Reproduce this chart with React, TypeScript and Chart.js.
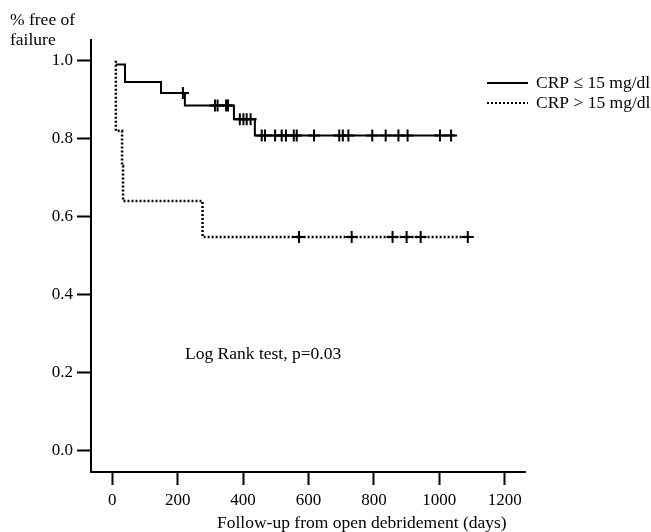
import React, { useEffect, useRef } from 'react';
import { Chart, registerables } from 'chart.js';

Chart.register(...registerables);

// Axis ticks
const xTicks = [0, 200, 400, 600, 800, 1000, 1200];
const yTicks = [0, 0.2, 0.4, 0.6, 0.8, 1.0];

// CRP <= 15 mg/dl : Kaplan-Meier steps (day, survival)
const lowCrpDays = [11, 39, 149, 222, 372, 436, 1048];
const lowCrpSurv = [0.99, 0.945, 0.917, 0.885, 0.85, 0.808, 0.808];
const lowCrpCensorDays = [216, 314, 322, 348, 354, 390, 401, 411, 423, 457, 467, 498, 518, 531, 555, 564, 617, 694, 705, 722, 795, 836, 875, 903, 1002, 1036];

// CRP > 15 mg/dl
const highCrpDays = [11, 11, 30, 33, 276, 1099];
const highCrpSurv = [1.0, 0.82, 0.73, 0.64, 0.548, 0.548];
const highCrpCensorDays = [571, 732, 857, 900, 943, 1087];

const FONT = '"Liberation Serif", "Times New Roman", serif';

function survAt(days: number[], surv: number[], t: number): number {
  let v = surv[0];
  for (let i = 0; i < days.length; i++) {
    if (days[i] <= t) v = surv[i];
  }
  return v;
}

const textPlugin = {
  id: 'texts',
  afterDraw(chart: any) {
    const ctx = chart.ctx as CanvasRenderingContext2D;
    ctx.save();
    ctx.fillStyle = '#000';
    ctx.strokeStyle = '#000';
    ctx.font = `17.5px ${FONT}`;
    ctx.textBaseline = 'middle';
    ctx.textAlign = 'left';
    // y title
    ctx.fillText('% free of', 10, 20);
    ctx.fillText('failure', 10, 40);
    // legend
    ctx.lineWidth = 2;
    ctx.beginPath();
    ctx.moveTo(487, 83);
    ctx.lineTo(528, 83);
    ctx.stroke();
    ctx.setLineDash([2, 2]);
    ctx.beginPath();
    ctx.moveTo(487, 103);
    ctx.lineTo(528, 103);
    ctx.stroke();
    ctx.setLineDash([]);
    ctx.fillText('CRP \u2264 15 mg/dl', 536, 83);
    ctx.fillText('CRP > 15 mg/dl', 536, 103);
    // annotation
    ctx.fillText('Log Rank test, p=0.03', 185, 354);
    // x title
    ctx.fillText('Follow-up from open debridement (days)', 217, 523);
    ctx.restore();
  },
};

export default function App() {
  const ref = useRef<HTMLCanvasElement | null>(null);
  useEffect(() => {
    if (!ref.current) return;
    const chart = new Chart(ref.current, {
      type: 'line',
      data: {
        datasets: [
          {
            label: 'CRP \u2264 15 mg/dl',
            data: lowCrpDays.map((d, i) => ({ x: d, y: lowCrpSurv[i] })),
            borderColor: '#000',
            borderWidth: 2,
            stepped: 'before',
            pointRadius: 0,
            fill: false,
          },
          {
            label: 'CRP > 15 mg/dl',
            data: highCrpDays.map((d, i) => ({ x: d, y: highCrpSurv[i] })),
            borderColor: '#000',
            borderWidth: 2.5,
            borderDash: [2, 2],
            stepped: 'before',
            pointRadius: 0,
            fill: false,
          },
          {
            label: 'censor low',
            data: lowCrpCensorDays.map((d) => ({ x: d, y: survAt(lowCrpDays, lowCrpSurv, d) })),
            showLine: false,
            pointStyle: 'cross',
            pointRadius: 6,
            pointBorderWidth: 2,
            borderColor: '#000',
            pointBorderColor: '#000',
          },
          {
            label: 'censor high',
            data: highCrpCensorDays.map((d) => ({ x: d, y: survAt(highCrpDays, highCrpSurv, d) })),
            showLine: false,
            pointStyle: 'cross',
            pointRadius: 6,
            pointBorderWidth: 2,
            borderColor: '#000',
            pointBorderColor: '#000',
          },
        ],
      } as any,
      options: {
        animation: false,
        responsive: false,
        maintainAspectRatio: false,
        layout: { padding: { top: 40, right: 126, left: 0, bottom: 0 } },
        plugins: { legend: { display: false }, tooltip: { enabled: false } },
        scales: {
          x: {
            type: 'linear',
            min: -65,
            max: 1262,
            afterFit: (s: any) => {
              s.height = 60;
            },
            afterBuildTicks: (s: any) => {
              s.ticks = xTicks.map((v) => ({ value: v }));
            },
            ticks: {
              color: '#000',
              font: { family: FONT, size: 17 },
              padding: 5,
              maxRotation: 0,
              autoSkip: false,
              callback: (v: any) => String(v),
            },
            grid: {
              display: true,
              drawOnChartArea: false,
              drawTicks: true,
              tickLength: 13,
              tickWidth: 2,
              tickColor: '#000',
              color: '#000',
            },
            border: { display: true, color: '#000', width: 2 },
          },
          y: {
            type: 'linear',
            min: -0.055,
            max: 1.053,
            afterFit: (s: any) => {
              s.width = 91;
            },
            afterBuildTicks: (s: any) => {
              s.ticks = yTicks.map((v) => ({ value: v }));
            },
            ticks: {
              color: '#000',
              font: { family: FONT, size: 17 },
              padding: 4,
              autoSkip: false,
              callback: (v: any) => Number(v).toFixed(1),
            },
            grid: {
              display: true,
              drawOnChartArea: false,
              drawTicks: true,
              tickLength: 14,
              tickWidth: 2,
              tickColor: '#000',
              color: '#000',
            },
            border: { display: true, color: '#000', width: 2 },
          },
        },
      } as any,
      plugins: [textPlugin],
    });
    return () => chart.destroy();
  }, []);

  return (
    <div style={{ position: 'fixed', left: 0, top: 0, width: 651, height: 532, background: '#fff' }}>
      <canvas ref={ref} width={651} height={532} style={{ width: 651, height: 532, display: 'block' }} />
    </div>
  );
}
